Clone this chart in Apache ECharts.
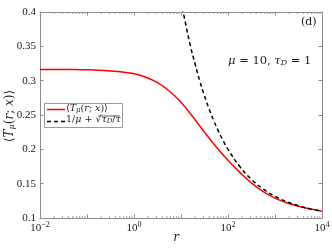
<!DOCTYPE html>
<html><head><meta charset="utf-8">
<script src="https://cdn.jsdelivr.net/npm/echarts@6/dist/echarts.min.js"></script>
<style>html,body{margin:0;padding:0;background:#fff}#c{width:332px;height:249px}</style>
</head><body><div id="c"></div>
<script>
// data
const redR = [0.01, 0.0178, 0.0316, 0.0562, 0.1, 0.178, 0.316, 0.562, 1, 1.78, 3.16, 5.62, 10, 17.8, 31.6, 56.2, 100, 178, 316, 562, 1000, 1778, 3162, 5623, 10000];
const redT = [0.3162, 0.3162, 0.3162, 0.3161, 0.3159, 0.3153, 0.3142, 0.3126, 0.3100, 0.3050, 0.2970, 0.2850, 0.2685, 0.2475, 0.2250, 0.2035, 0.1840, 0.1665, 0.1510, 0.1385, 0.1290, 0.1222, 0.1170, 0.1130, 0.1100];
const dashR = [10, 12.6, 15.8, 20, 25.1, 31.6, 39.8, 50.1, 63.1, 79.4, 100, 178, 316, 562, 1000, 1778, 3162, 5623, 10000];
const dashT = [0.416, 0.382, 0.351, 0.324, 0.2995, 0.2778, 0.2585, 0.2413, 0.2259, 0.2122, 0.200, 0.175, 0.1562, 0.1422, 0.1316, 0.1237, 0.1178, 0.1133, 0.110];
const yTicks = [0.1, 0.15, 0.2, 0.25, 0.3, 0.35, 0.4];
const xLabelExps = [-2, 0, 2, 4];
const decades = [0.01, 0.1, 1, 10, 100, 1000];
const minorMult = [2, 3, 4, 5, 6, 7, 8, 9];

const serif = 'Liberation Serif';
const mserif = 'DejaVu Serif';
const axisCol = '#8c8c8c';
const txt = '#1a1a1a';
const pair = (xs, ys) => xs.map((x, i) => [x, ys[i]]);
const minorR = [];
decades.forEach(d => minorMult.forEach(m => minorR.push(+(d * m).toPrecision(3))));

const chart = echarts.init(document.getElementById('c'), null, {renderer: 'canvas'});
const xCommon = {
  type: 'log', logBase: 10, min: 0.01, max: 10000, interval: 1,
  axisLine: {show: true, lineStyle: {color: axisCol, width: 1}},
  axisTick: {show: true, inside: true, length: 3.5, lineStyle: {color: axisCol}},
  splitLine: {show: false}
};
const yCommon = {
  type: 'value', min: 0.1, max: 0.4, interval: 0.05,
  axisLine: {show: true, lineStyle: {color: axisCol, width: 1}},
  axisTick: {show: true, inside: true, length: 3.5, lineStyle: {color: axisCol}},
  splitLine: {show: false}
};
const richG = (fs, sub) => ({
  a: {fontFamily: mserif, fontSize: fs, fill: txt},
  i: {fontFamily: mserif, fontSize: fs, fontStyle: 'italic', fill: txt},
  s: {fontFamily: mserif, fontSize: Math.round(fs * 0.7), fontStyle: 'italic', fill: txt, padding: [0, 0, sub, 0]}
});
chart.setOption({
  animation: false,
  grid: {left: 40, right: 10, top: 12, bottom: 31, outerBoundsMode: 'none', containLabel: false},
  xAxis: [
    Object.assign({}, xCommon, {
      position: 'bottom',
      axisLabel: {
        margin: 3, fontFamily: serif, color: txt,
        formatter: v => {
          const e = Math.round(Math.log10(v));
          if (!xLabelExps.includes(e)) return '';
          return '{b|10}{s|' + (e < 0 ? '\u2212' + (-e) : e) + '}';
        },
        rich: {b: {fontFamily: serif, fontSize: 11, color: txt},
               s: {fontFamily: serif, fontSize: 8, color: txt, padding: [0, 0, 6, 0]}}
      }
    }),
    Object.assign({}, xCommon, {position: 'top', axisLabel: {show: false}})
  ],
  yAxis: [
    Object.assign({}, yCommon, {
      position: 'left',
      axisLabel: {margin: 4, fontFamily: serif, fontSize: 11, color: txt,
        formatter: v => yTicks.includes(+v.toFixed(2)) ? String(+v.toFixed(2)) : ''}
    }),
    Object.assign({}, yCommon, {position: 'right', axisLabel: {show: false}})
  ],
  series: [
    {name: 'red', type: 'line', data: pair(redR, redT), symbol: 'none', smooth: 0.5,
     lineStyle: {color: '#ff0000', width: 1.5}, clip: true, z: 3, silent: true},
    {name: 'dash', type: 'line', data: pair(dashR, dashT), symbol: 'none', smooth: 0.5,
     lineStyle: {color: '#000', width: 1.5, type: [4, 3]}, clip: true, z: 4, silent: true},
    {name: 'minorBottom', type: 'scatter', data: minorR.map(r => [r, 0.1]), symbol: 'rect',
     symbolSize: [1, 2], symbolOffset: [0, -1], itemStyle: {color: axisCol}, silent: true, clip: false, z: 1},
    {name: 'minorTop', type: 'scatter', data: minorR.map(r => [r, 0.4]), symbol: 'rect',
     symbolSize: [1, 2], symbolOffset: [0, 1], itemStyle: {color: axisCol}, silent: true, clip: false, z: 1}
  ],
  graphic: [
    // axis titles
    {type: 'text', x: 176, y: 238, style: {text: 'r', align: 'center', verticalAlign: 'middle',
      font: 'italic 12px "DejaVu Serif"', fill: txt}},
    {type: 'text', x: 10, y: 116, rotation: Math.PI / 2, style: {
      text: '{a|\u27E8}{i|T}{s|\u03BC}{a|(}{i|r}{a|; }{i|x}{a|)\u27E9}',
      align: 'center', verticalAlign: 'middle', rich: richG(12, -3)}},
    {type: 'text', left: 301, top: 17, style: {text: '(d)', font: '11px "DejaVu Serif"', fill: txt}},
    {type: 'text', left: 228, top: 55, style: {
      text: '{i|\u03BC}{a| = 10, }{i|\u03C4}{s|D}{a| = 1}', rich: richG(11.5, -3)}},
    // legend box
    {type: 'rect', shape: {x: 44.5, y: 103.5, width: 78, height: 24}, style: {fill: '#fff', stroke: '#9a9a9a', lineWidth: 1}, z: 100},
    {type: 'line', shape: {x1: 47, y1: 109.5, x2: 65, y2: 109.5}, style: {stroke: '#ff0000', lineWidth: 1.5}, z: 101},
    {type: 'line', shape: {x1: 47, y1: 121.5, x2: 65, y2: 121.5}, style: {stroke: '#000', lineWidth: 1.5, lineDash: [4, 3]}, z: 101},
    {type: 'text', left: 66, top: 104, z: 101, style: {
      text: '{a|\u27E8}{i|T}{s|\u03BC}{a|(}{i|r}{a|; }{i|x}{a|)\u27E9}', rich: richG(9.5, -2)}},
    {type: 'text', left: 66, top: 115, z: 101, style: {
      text: '{a|1/}{i|\u03BC}{a| + \u221A}{i|\u03C4}{s|D}{a|/}{i|\u03C4}', rich: richG(9.5, -2)}},
    {type: 'line', shape: {x1: 98, y1: 116, x2: 120, y2: 116}, style: {stroke: txt, lineWidth: 0.7}, z: 101}
  ]
});
</script></body></html>
